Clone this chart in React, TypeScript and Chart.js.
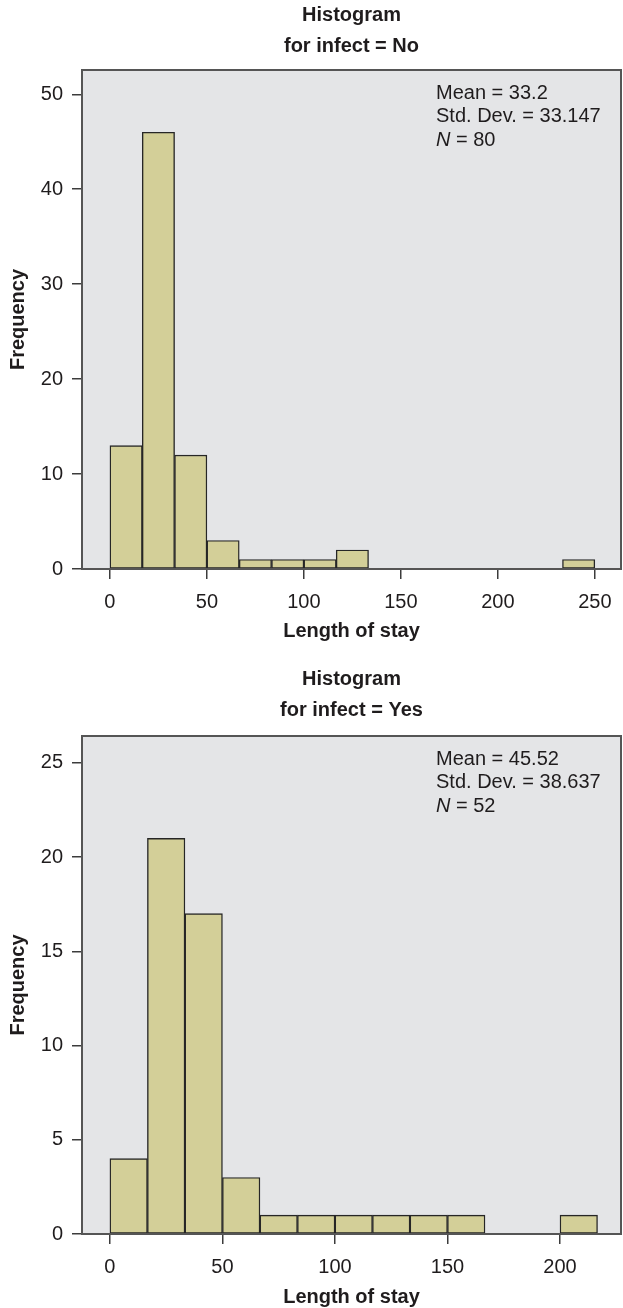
import React, { useEffect, useRef } from 'react';
import { Chart, registerables } from 'chart.js';

Chart.register(...registerables);

// ---------- data ----------
const BIN_WIDTH = 250 / 15;

const noBinStarts = [0, 16.667, 33.333, 50, 66.667, 83.333, 100, 116.667, 133.333, 150, 166.667, 183.333, 200, 216.667, 233.333];
const noCounts = [13, 46, 12, 3, 1, 1, 1, 2, 0, 0, 0, 0, 0, 0, 1];
const noXTicks = [0, 50, 100, 150, 200, 250];
const noYTicks = [0, 10, 20, 30, 40, 50];
const noTitle = ['Histogram', 'for infect = No'];
const noMean = '33.2';
const noStdDev = '33.147';
const noN = '80';

const yesBinStarts = [0, 16.667, 33.333, 50, 66.667, 83.333, 100, 116.667, 133.333, 150, 166.667, 183.333, 200];
const yesCounts = [4, 21, 17, 3, 1, 1, 1, 1, 1, 1, 0, 0, 1];
const yesXTicks = [0, 50, 100, 150, 200];
const yesYTicks = [0, 5, 10, 15, 20, 25];
const yesTitle = ['Histogram', 'for infect = Yes'];
const yesMean = '45.52';
const yesStdDev = '38.637';
const yesN = '52';

const xAxisTitle = 'Length of stay';
const yAxisTitle = 'Frequency';

// ---------- style ----------
const FAMILY = "'Liberation Sans', Arial, Helvetica, sans-serif";
const TEXT = '#1f1c1d';
const PLOT_BG = '#e4e5e7';
const BAR_FILL = '#d3cf98';
const BAR_EDGE = '#262626';
const BOX = '#555555';
const TICK = '#3c3c3c';

type HistProps = {
  binStarts: number[];
  counts: number[];
  xTicks: number[];
  yTicks: number[];
  xMin: number;
  xMax: number;
  yMax: number;
  title: string[];
  mean: string;
  sd: string;
  n: string;
  height: number;
  topPad: number;
  titleBottomPad: number;
  xAxisHeight: number;
  xTitlePadBottom: number;
};

function Histogram(p: HistProps) {
  const ref = useRef<HTMLCanvasElement | null>(null);

  useEffect(() => {
    if (!ref.current) return;
    const points = p.binStarts
      .map((s, i) => ({ x: s + BIN_WIDTH / 2, y: p.counts[i] }))
      .filter((d) => d.y > 0);

    const boxPlugin = {
      id: 'histBox',
      beforeDraw(chart: any) {
        const { ctx, chartArea: a } = chart;
        ctx.save();
        ctx.fillStyle = PLOT_BG;
        ctx.fillRect(a.left, a.top, a.right - a.left, a.bottom - a.top);
        ctx.restore();
      },
      afterDatasetsDraw(chart: any) {
        const { ctx, chartArea: a } = chart;
        ctx.save();
        ctx.strokeStyle = BOX;
        ctx.lineWidth = 2;
        ctx.strokeRect(a.left, a.top, a.right - a.left, a.bottom - a.top);

        ctx.fillStyle = TEXT;
        ctx.textBaseline = 'middle';
        ctx.textAlign = 'left';
        const x = a.left + 354;
        ctx.font = `20px ${FAMILY}`;
        ctx.fillText(`Mean = ${p.mean}`, x, a.top + 23);
        ctx.fillText(`Std. Dev. = ${p.sd}`, x, a.top + 46.5);
        ctx.font = `italic 20px ${FAMILY}`;
        ctx.fillText('N', x, a.top + 70);
        const w = ctx.measureText('N').width;
        ctx.font = `20px ${FAMILY}`;
        ctx.fillText(` = ${p.n}`, x + w, a.top + 70);
        ctx.restore();
      },
    };

    const gridOpts = {
      display: true,
      drawOnChartArea: false,
      drawTicks: true,
      tickLength: 10,
      color: TICK,
      lineWidth: 1.5,
      offset: false,
    };

    const chart = new Chart(ref.current, {
      type: 'bar',
      data: {
        datasets: [
          {
            data: points as any,
            backgroundColor: BAR_FILL,
            borderColor: BAR_EDGE,
            borderWidth: 1.4,
            borderSkipped: false,
            barPercentage: 1,
            categoryPercentage: 1,
            grouped: false,
          } as any,
        ],
      },
      options: {
        responsive: false,
        animation: false,
        events: [],
        layout: { padding: { top: p.topPad, left: 0, right: 2, bottom: 0 } },
        plugins: {
          legend: { display: false },
          tooltip: { enabled: false },
          title: {
            display: true,
            text: p.title,
            fullSize: false,
            color: TEXT,
            font: { family: FAMILY, size: 20, weight: 'bold', lineHeight: '31px' } as any,
            padding: { top: 0, bottom: p.titleBottomPad },
          },
        },
        scales: {
          x: {
            type: 'linear',
            min: p.xMin,
            max: p.xMax,
            offset: false,
            afterBuildTicks: (s: any) => {
              s.ticks = p.xTicks.map((v) => ({ value: v }));
            },
            afterFit: (s: any) => {
              s.height = p.xAxisHeight;
            },
            grid: gridOpts as any,
            border: { display: false },
            ticks: {
              padding: 11,
              color: TEXT,
              font: { family: FAMILY, size: 20 },
              maxRotation: 0,
              autoSkip: false,
            },
            title: {
              display: true,
              text: xAxisTitle,
              color: TEXT,
              font: { family: FAMILY, size: 20, weight: 'bold', lineHeight: '22px' } as any,
              padding: { top: 0, bottom: p.xTitlePadBottom },
            },
          },
          y: {
            type: 'linear',
            min: 0,
            max: p.yMax,
            afterBuildTicks: (s: any) => {
              s.ticks = p.yTicks.map((v) => ({ value: v }));
            },
            afterFit: (s: any) => {
              s.width = 82;
            },
            grid: gridOpts as any,
            border: { display: false },
            ticks: {
              padding: 9,
              color: TEXT,
              font: { family: FAMILY, size: 20 },
              autoSkip: false,
            },
            title: {
              display: true,
              text: yAxisTitle,
              color: TEXT,
              font: { family: FAMILY, size: 20, weight: 'bold', lineHeight: '24px' } as any,
              padding: { top: 6, bottom: 0 },
            },
          },
        },
      },
      plugins: [boxPlugin as any],
    });

    return () => chart.destroy();
  }, []);

  return <canvas ref={ref} width={623} height={p.height} style={{ display: 'block' }} />;
}

export default function App() {
  useEffect(() => {
    document.body.style.margin = '0';
  }, []);
  return (
    <div style={{ width: 623, background: '#ffffff' }}>
      <Histogram
        binStarts={noBinStarts}
        counts={noCounts}
        xTicks={noXTicks}
        yTicks={noYTicks}
        xMin={-14.4}
        xMax={263.5}
        yMax={52.56}
        title={noTitle}
        mean={noMean}
        sd={noStdDev}
        n={noN}
        height={654}
        topPad={0}
        titleBottomPad={8}
        xAxisHeight={85}
        xTitlePadBottom={12}
      />
      <Histogram
        binStarts={yesBinStarts}
        counts={yesCounts}
        xTicks={yesXTicks}
        yTicks={yesYTicks}
        xMin={-12.4}
        xMax={227.1}
        yMax={26.43}
        title={yesTitle}
        mean={yesMean}
        sd={yesStdDev}
        n={yesN}
        height={654}
        topPad={10}
        titleBottomPad={10}
        xAxisHeight={74}
        xTitlePadBottom={0}
      />
    </div>
  );
}
